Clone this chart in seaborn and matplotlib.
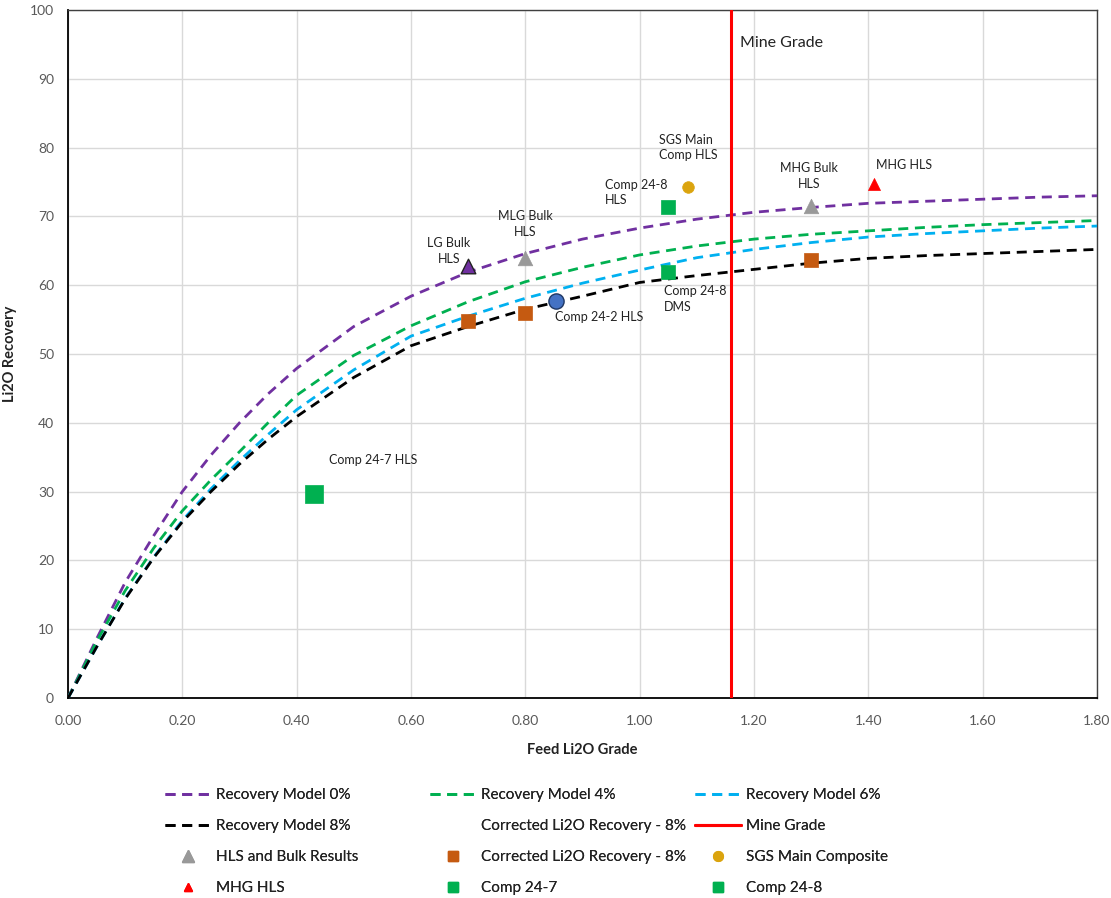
import matplotlib
matplotlib.use("Agg")
import matplotlib.pyplot as plt
import seaborn as sns
import pandas as pd
from matplotlib.lines import Line2D

# ---------------- data ----------------
grade = [0.0, 0.05, 0.1, 0.15, 0.2, 0.25, 0.3, 0.35, 0.4, 0.5, 0.6, 0.7, 0.8, 0.9,
         1.0, 1.1, 1.2, 1.3, 1.4, 1.5, 1.6, 1.7, 1.8]
model_0 = [0.0, 8.6, 16.8, 23.6, 30.0, 35.3, 40.0, 44.2, 47.9, 54.0, 58.4, 61.9, 64.6, 66.7,
           68.3, 69.6, 70.6, 71.3, 71.9, 72.2, 72.5, 72.8, 73.0]
model_4 = [0.0, 8.2, 15.6, 21.8, 27.2, 31.7, 35.8, 40.0, 44.0, 49.8, 54.1, 57.6, 60.5, 62.6,
           64.4, 65.7, 66.7, 67.4, 67.9, 68.4, 68.8, 69.1, 69.4]
model_6 = [0.0, 7.4, 14.5, 20.5, 25.8, 30.4, 34.5, 38.3, 41.9, 47.7, 52.6, 55.5, 58.1, 60.3,
           62.2, 64.0, 65.2, 66.2, 67.0, 67.5, 67.9, 68.3, 68.6]
model_8 = [0.0, 7.4, 14.4, 20.4, 25.6, 30.0, 34.0, 37.6, 40.9, 46.6, 51.2, 54.0, 56.5, 58.4,
           60.4, 61.4, 62.3, 63.2, 63.9, 64.3, 64.6, 64.9, 65.2]

mine_grade = 1.16

hls_bulk_x = [0.80, 1.30]
hls_bulk_y = [64.0, 71.5]
lg_bulk_x = [0.70]
lg_bulk_y = [62.8]
corrected_x = [0.70, 0.80, 1.30]
corrected_y = [54.8, 55.9, 63.6]
sgs_x = [1.085]
sgs_y = [74.3]
mhg_x = [1.41]
mhg_y = [74.7]
comp247_x = [0.43]
comp247_y = [29.7]
comp248_x = [1.05, 1.05]
comp248_y = [71.4, 61.9]
comp242_x = [0.853]
comp242_y = [57.7]

labels_text = ["SGS Main\nComp HLS", "Comp 24-8\nHLS", "MHG Bulk\nHLS", "MHG HLS",
               "MLG Bulk\nHLS", "LG Bulk\nHLS", "Comp 24-8\nDMS", "Comp 24-2 HLS",
               "Comp 24-7 HLS"]
labels_x = [1.034, 0.939, 1.296, 1.413, 0.80, 0.666, 1.043, 0.852, 0.457]
labels_y = [80.0, 73.5, 75.9, 77.5, 68.9, 65.0, 58.0, 55.4, 34.6]
labels_ha = ["left", "left", "center", "left", "center", "center", "left", "left", "left"]

legend_col1 = ["Recovery Model 0%", "Recovery Model 8%", "HLS and Bulk Results", "MHG HLS"]
legend_col2 = ["Recovery Model 4%", "Corrected Li2O Recovery - 8%", "Corrected Li2O Recovery - 8%", "Comp 24-7"]
legend_col3 = ["Recovery Model 6%", "Mine Grade", "SGS Main Composite", "Comp 24-8"]

# ---------------- style ----------------
sns.set_theme(style="white")
plt.rcParams["font.family"] = ["Lato", "DejaVu Sans"]

PURPLE = "#7030A0"
GREEN = "#00B050"
BLUE = "#00B0F0"
ORANGE = "#C55A11"
GOLD = "#DBA40E"
GRAY = "#999999"
RED = "#FF0000"

fig = plt.figure(figsize=(11.11, 8.98), dpi=100)
ax = fig.add_axes([68 / 1111, 1 - 698 / 898, (1097 - 68) / 1111, (698 - 10) / 898])

df = pd.DataFrame({"grade": grade, "m0": model_0, "m4": model_4, "m6": model_6, "m8": model_8})
dash = (3.6, 2.4)
for col, c in [("m0", PURPLE), ("m4", GREEN), ("m6", BLUE), ("m8", "black")]:
    sns.lineplot(data=df, x="grade", y=col, ax=ax, color=c, lw=2.0, sort=False,
                 estimator=None, dashes=False, zorder=3).lines[-1].set_dashes(dash)

ax.axvline(mine_grade, color=RED, lw=2.2, zorder=4)

sns.scatterplot(x=hls_bulk_x, y=hls_bulk_y, ax=ax, marker="^", s=110, color=GRAY,
                edgecolor=GRAY, linewidth=0.5, zorder=5)
sns.scatterplot(x=lg_bulk_x, y=lg_bulk_y, ax=ax, marker="^", s=110, color=PURPLE,
                edgecolor="#222222", linewidth=1.0, zorder=5)
sns.scatterplot(x=corrected_x, y=corrected_y, ax=ax, marker="s", s=90, color=ORANGE,
                edgecolor=ORANGE, linewidth=0.5, zorder=5)
sns.scatterplot(x=sgs_x, y=sgs_y, ax=ax, marker="o", s=70, color=GOLD,
                edgecolor=GOLD, linewidth=0.5, zorder=5)
sns.scatterplot(x=mhg_x, y=mhg_y, ax=ax, marker="^", s=75, color=RED,
                edgecolor=RED, linewidth=0.5, zorder=5)
sns.scatterplot(x=comp247_x, y=comp247_y, ax=ax, marker="s", s=150, color=GREEN,
                edgecolor=GREEN, linewidth=0.5, zorder=5)
sns.scatterplot(x=comp248_x, y=comp248_y, ax=ax, marker="s", s=90, color=GREEN,
                edgecolor=GREEN, linewidth=0.5, zorder=5)
sns.scatterplot(x=comp242_x, y=comp242_y, ax=ax, marker="o", s=120, color="#4472C4",
                edgecolor="#1F3864", linewidth=1.0, zorder=5)

for t, x, y, ha in zip(labels_text, labels_x, labels_y, labels_ha):
    ax.text(x, y, t, ha=ha, va="center", fontsize=9, color="#222222",
            linespacing=1.35, zorder=6)
ax.text(1.175, 95.2, "Mine Grade", ha="left", va="center", fontsize=11.5, color="#222222")

ax.set_xlim(0, 1.8)
ax.set_ylim(0, 100)
ax.set_xticks([i * 0.2 for i in range(10)])
ax.set_xticklabels([f"{i * 0.2:.2f}" for i in range(10)])
ax.set_yticks(range(0, 101, 10))
ax.tick_params(axis="x", labelsize=10, colors="#595959", length=0, pad=12)
ax.tick_params(axis="y", labelsize=10, colors="#595959", length=0, pad=10)
ax.grid(True, color="#D9D9D9", lw=1.0)
ax.set_axisbelow(True)
for side in ["left", "bottom"]:
    ax.spines[side].set_color("black")
    ax.spines[side].set_linewidth(1.3)
for side in ["top", "right"]:
    ax.spines[side].set_color("#404040")
    ax.spines[side].set_linewidth(1.0)

ax.set_xlabel("Feed Li2O Grade", fontsize=10.5, fontweight="bold", color="#222222", labelpad=12)
ax.set_ylabel("Li2O Recovery", fontsize=10.5, fontweight="bold", color="#222222", labelpad=9)

# ---------------- legend (three columns placed like the original) ----------------
def dline(c):
    return Line2D([], [], color=c, lw=2.0, dashes=dash)

def mk(m, c, ms=8):
    return Line2D([], [], ls="none", marker=m, color=c, markersize=ms, markeredgecolor=c)

col1_handles = [dline(PURPLE), dline("black"), mk("^", GRAY, 8), mk("^", RED, 6)]
col2_handles = [dline(GREEN), Line2D([], [], ls="none"), mk("s", ORANGE, 7), mk("s", GREEN, 7)]
col3_handles = [dline(BLUE), Line2D([], [], color=RED, lw=2.2), mk("o", GOLD, 7), mk("s", GREEN, 7)]

for hs, ls, x0 in [(col1_handles, legend_col1, 165), (col2_handles, legend_col2, 430),
                   (col3_handles, legend_col3, 695)]:
    leg = fig.legend(hs, ls, ncol=1, loc="upper left",
                     bbox_to_anchor=(x0 / 1111, 1 - 788 / 898),
                     frameon=False, fontsize=11, handlelength=3.0, handletextpad=0.35,
                     labelspacing=1.12, borderpad=0, borderaxespad=0,
                     labelcolor="#222222")
    fig.add_artist(leg)

fig.savefig("out.png", dpi=100)
